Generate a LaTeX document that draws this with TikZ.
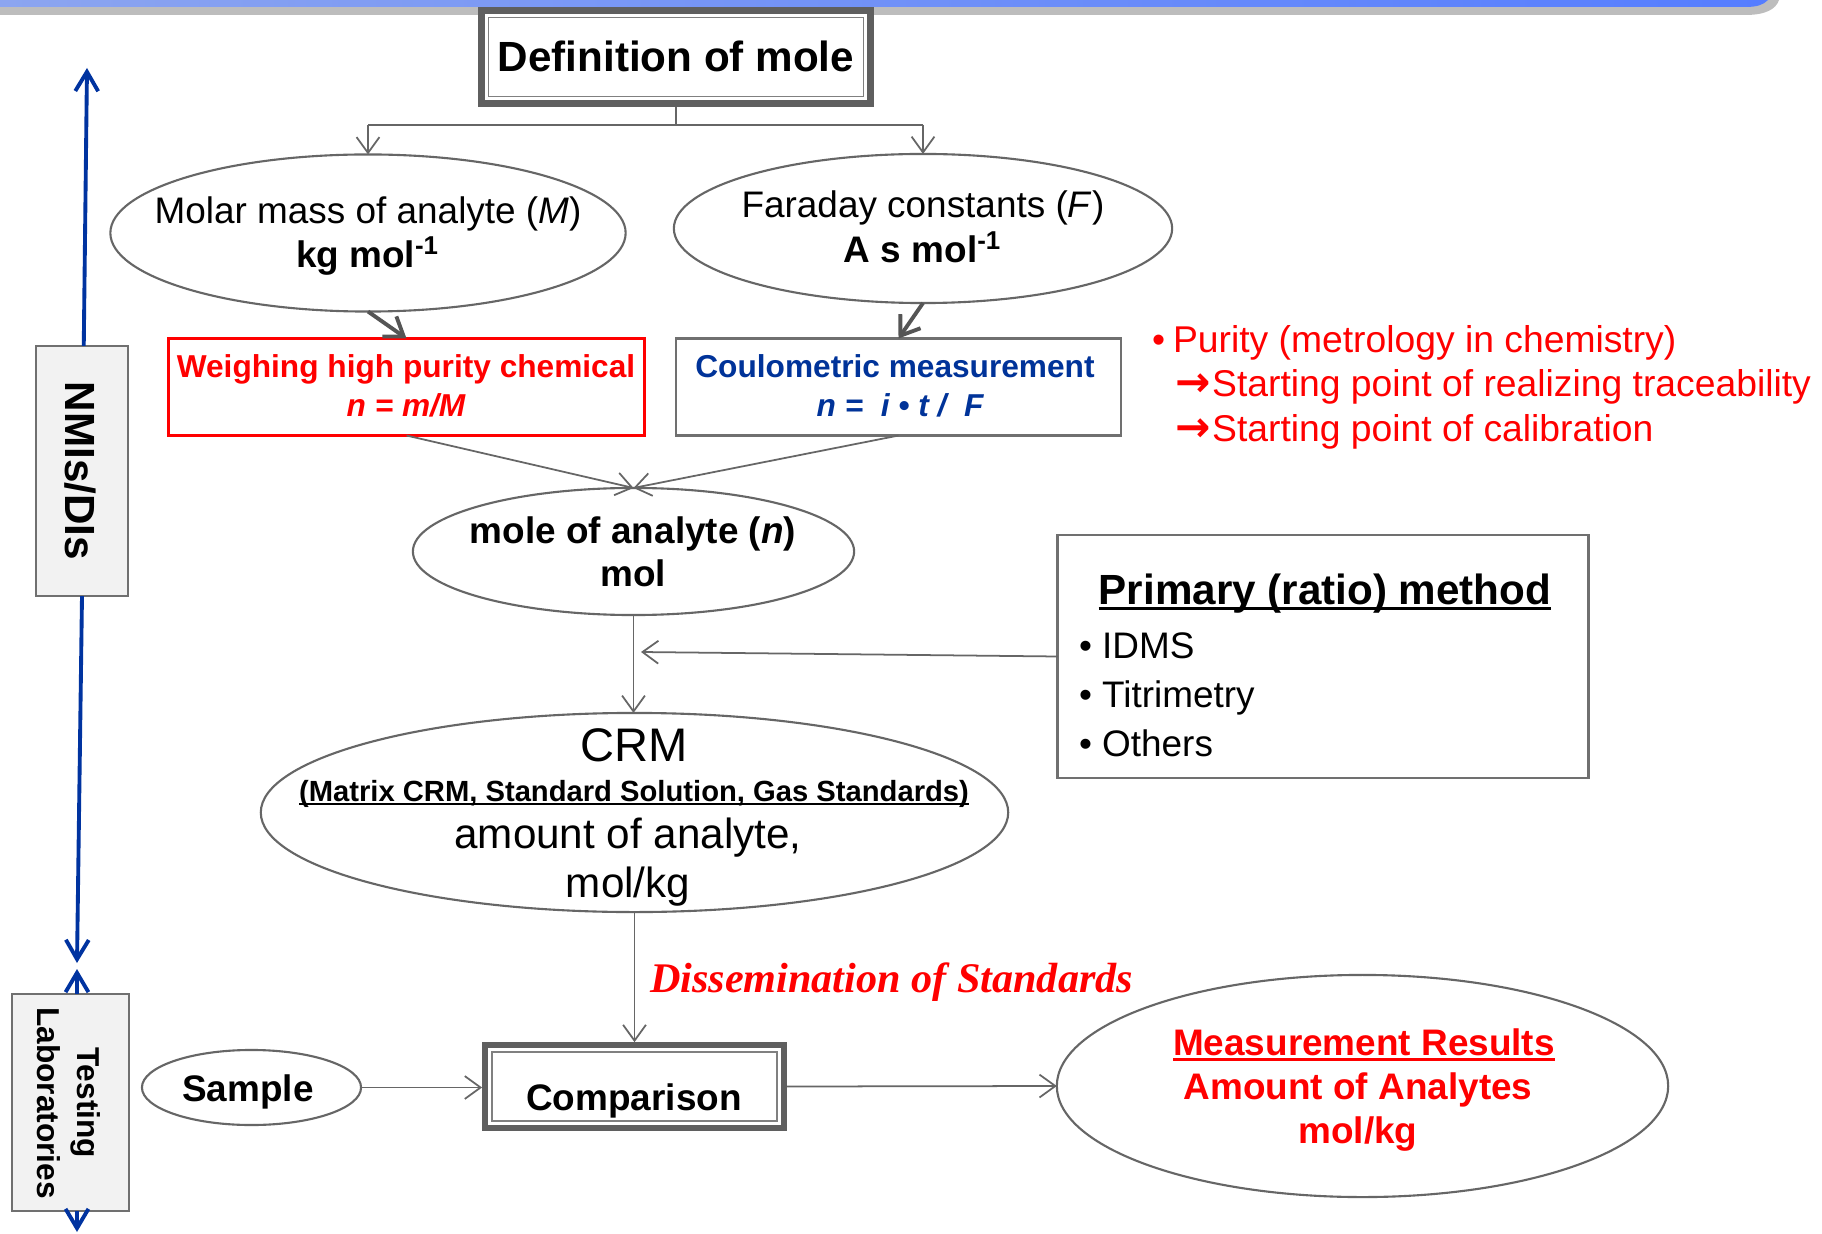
\documentclass[tikz,border=0pt]{standalone}
\usepackage{fontspec}
\setmainfont{Liberation Sans}
\newfontfamily\serifit{Liberation Serif}
\newfontfamily\symfont{DejaVu Sans}
\usetikzlibrary{shapes.geometric,arrows.meta,calc}

\definecolor{lnGray}{HTML}{666666}
\definecolor{darkGray}{HTML}{555555}
\definecolor{frameGray}{HTML}{5F5F5F}
\definecolor{innerGray}{HTML}{808080}
\definecolor{boxGray}{HTML}{707070}
\definecolor{boxFill}{HTML}{F2F2F2}
\definecolor{navy}{HTML}{003399}
\definecolor{blueArr}{HTML}{0033A0}
\definecolor{redT}{HTML}{FF0000}
\definecolor{bannerL}{RGB}{140,165,240}
\definecolor{bannerR}{RGB}{85,125,255}
\definecolor{bannerGray}{HTML}{BDBDBD}

\newcommand\setfs[1]{\fontsize{#1}{#1}\selectfont}
\newcommand\myul[1]{\setbox0=\hbox{#1}\rlap{\rule[-0.15em]{\wd0}{0.075em}}\box0}
\newcommand\redarrow{{\symfont\bfseries\fontsize{12}{12}\selectfont →}}

\begin{document}
\begin{tikzpicture}[x=0.01cm,y=-0.01cm,
  every node/.style={inner sep=0pt, outer sep=0pt},
  txt/.style={anchor=base},
  ell/.style={ellipse, draw=lnGray, line width=0.6pt, fill=white},
  conn/.style={draw=lnGray, line width=0.5pt, -{Straight Barb[length=4.5pt,width=6.5pt]}},
  plain/.style={draw=lnGray, line width=0.5pt},
  thickconn/.style={draw=darkGray, line width=1.1pt, -{Straight Barb[length=5pt,width=7pt]}},
  bconn/.style={draw=blueArr, line width=1.1pt, -{Straight Barb[length=5.5pt,width=6.5pt]}},
  sidebox/.style={rectangle, draw=boxGray, line width=0.6pt, fill=boxFill},
  dblbox/.style={rectangle, draw=frameGray, fill=white},
]
\useasboundingbox (0,0) rectangle (1822,1234);
\fill[white] (0,0) rectangle (1822,1234);

% banner
\fill[bannerGray] (0,0) -- (1779,0) .. controls (1776,9) and (1766,15) .. (1745,15) -- (0,15) -- cycle;
\shade[left color=bannerL, right color=bannerR] (0,0) -- (1768,0) .. controls (1763,5) and (1757,7) .. (1745,7) -- (0,7) -- cycle;

% left axis
\node[sidebox, minimum width=0.92cm, minimum height=2.5cm] (nmis) at (82,471) {};
\node[rotate=-90, font=\setfs{12}\bfseries] (nmist) at (80,471) {NMIs/DIs};
\node[sidebox, minimum width=1.17cm, minimum height=2.17cm] (test) at (70.5,1102.5) {};
\node[rotate=-90, align=center, font={\fontsize{9}{11.4}\selectfont\bfseries}] (testt) at (68.5,1103) {Testing\\Laboratories};
\coordinate (topTip) at (87,68);
\coordinate (midTip) at (77,963);
\coordinate (upTip) at (77,969);
\coordinate (botTip) at (77,1232);
\draw[bconn] ([xshift=0.5pt]nmis.north) -- (topTip);
\draw[bconn] (nmis.south) -- (midTip);
\draw[bconn] (midTip |- test.north) -- (upTip);
\draw[bconn] (midTip |- test.south) -- (botTip);

% definition
\node[dblbox, line width=1.9pt, minimum width=3.89cm, minimum height=0.93cm] (def) at (676,57) {};
\draw[innerGray, line width=0.5pt] ([shift={(2pt,-2pt)}]def.north west) rectangle ([shift={(-2pt,2pt)}]def.south east);
\node[txt, font=\setfs{12}\bfseries] (deft) at (676,72) {Definition of mole};

% ellipses
\node[ell, minimum width=5.15cm, minimum height=1.57cm] (mm) at (368,233) {};
\node[ell, minimum width=4.98cm, minimum height=1.49cm] (fc) at (923,228.5) {};
\coordinate (jy) at (0,125);
\draw[plain] ([yshift=-1pt]def.south) -- (def.south |- jy);
\draw[plain] (mm.north |- jy) -- (fc.north |- jy);
\draw[conn] (mm.north |- jy) -- (mm.north);
\draw[conn] (fc.north |- jy) -- (fc.north);

\node[txt, font=\setfs{10.5}] (mmt1) at (368,224) {Molar mass of analyte (\textit{M})};
\node[txt, font=\setfs{10.5}\bfseries] (mmt2) at (368,268) {kg mol\textsuperscript{-1}};
\node[txt, font=\setfs{10.5}] (fct1) at (923,218) {Faraday constants (\textit{F})};
\node[txt, font=\setfs{10.5}\bfseries] (fct2) at (923,263) {A s mol\textsuperscript{-1}};

% boxes
\node[rectangle, draw=redT, line width=0.8pt, minimum width=4.76cm, minimum height=0.97cm] (wh) at (406.5,387) {};
\node[rectangle, draw=boxGray, line width=0.7pt, minimum width=4.45cm, minimum height=0.97cm] (cm) at (898.5,387) {};
\draw[thickconn] (mm.south) -- (wh.north);
\draw[thickconn] (fc.south) -- (cm.north);
\node[txt, font=\setfs{9}\bfseries, text=redT] (wht1) at (406,378) {Weighing high purity chemical};
\node[txt, font=\setfs{9}\bfseries\itshape, text=redT] (wht2) at (406,417) {n = m/M};
\node[txt, font=\setfs{9}\bfseries, text=navy] (cmt1) at (895,378) {Coulometric measurement};
\node[txt, font=\setfs{9}\bfseries\itshape, text=navy] (cmt2) at (900,417) {n =\ \ i • t /\ \ F};

% mole
\node[ell, minimum width=4.41cm, minimum height=1.27cm] (mole) at (633.5,551.5) {};
\draw[conn] (wh.south) -- (mole.north);
\draw[conn] (cm.south) -- (mole.north);
\node[txt, font=\setfs{10.5}\bfseries] (molet1) at (633,544) {mole of analyte (\textit{n})};
\node[txt, font=\setfs{10.5}\bfseries] (molet2) at (633,587) {mol};

% primary
\node[rectangle, draw=boxGray, line width=0.8pt, minimum width=5.3cm, minimum height=2.43cm] (prim) at (1323,656.5) {};
\coordinate (ptip) at (641,652);
\draw[conn] (prim.west) -- (ptip);
\node[txt, font=\setfs{12}\bfseries] (pt0) at (1325,604) {\myul{Primary (ratio) method}};
\node[txt, anchor=base west, font=\setfs{10.5}] (pt1) at (1079,658) {• IDMS};
\node[txt, anchor=base west, font=\setfs{10.5}] (pt2) at (1079,707) {• Titrimetry};
\node[txt, anchor=base west, font=\setfs{10.5}] (pt3) at (1079,756) {• Others};

% CRM
\node[ell, minimum width=7.47cm, minimum height=1.99cm] (crm) at (634.5,812.5) {};
\draw[conn] (mole.south) -- (mole.south |- crm.north);
\node[txt, font=\setfs{13.4}] (crmt1) at (634,761) {CRM};
\node[txt, font=\setfs{8.3}\bfseries] (crmt2) at (634,801) {\myul{(Matrix CRM, Standard Solution, Gas Standards)}};
\node[txt, font=\setfs{12}] (crmt3) at (628,848) {amount of analyte,};
\node[txt, font=\setfs{12}] (crmt4) at (628,897) {mol/kg};

% comparison
\node[dblbox, line width=1.7pt, minimum width=2.99cm, minimum height=0.83cm] (comp) at (634.5,1086.5) {};
\draw[innerGray, line width=0.5pt] ([shift={(2pt,-2pt)}]comp.north west) rectangle ([shift={(-2pt,2pt)}]comp.south east);
\node[txt, font=\setfs{10.5}\bfseries] (compt) at (634,1110) {Comparison};
\draw[conn] (crm.south) -- ([yshift=0.8pt]crm.south |- comp.north);
\node[txt, anchor=base west, font=\serifit\setfs{12}\bfseries\itshape, text=redT] (diss) at (650,992) {Dissemination of Standards};

% sample
\node[ell, minimum width=2.19cm, minimum height=0.75cm] (samp) at (251.5,1087.5) {};
\node[txt, font=\setfs{10.5}\bfseries] (sampt) at (248,1101) {Sample};
\draw[conn] (samp.east) -- ([xshift=-0.8pt]samp.east -| comp.west);

% measurement
\node[ell, minimum width=6.11cm, minimum height=2.22cm] (meas) at (1362.5,1086) {};
\draw[conn] ([xshift=0.8pt]comp.east) -- (meas.west);
\node[txt, font=\setfs{10.5}\bfseries, text=redT] (mt1) at (1364,1055) {\myul{Measurement Results}};
\node[txt, font=\setfs{10.5}\bfseries, text=redT] (mt2) at (1358,1099) {Amount of Analytes};
\node[txt, font=\setfs{10.5}\bfseries, text=redT] (mt3) at (1358,1143) {mol/kg};

% purity notes
\node[txt, anchor=base west, font=\setfs{10.6}, text=redT] (pb) at (1152,353) {•};
\node[txt, anchor=base west, font=\setfs{10.6}, text=redT] (p1) at (1173,353) {Purity (metrology in chemistry)};
\node[txt, anchor=base west, font=\setfs{10.6}, text=redT] (p2) at (1175,397) {\redarrow\hspace{0.5pt}Starting point of realizing traceability};
\node[txt, anchor=base west, font=\setfs{10.6}, text=redT] (p3) at (1175,442) {\redarrow\hspace{0.5pt}Starting point of calibration};
\end{tikzpicture}
\end{document}
